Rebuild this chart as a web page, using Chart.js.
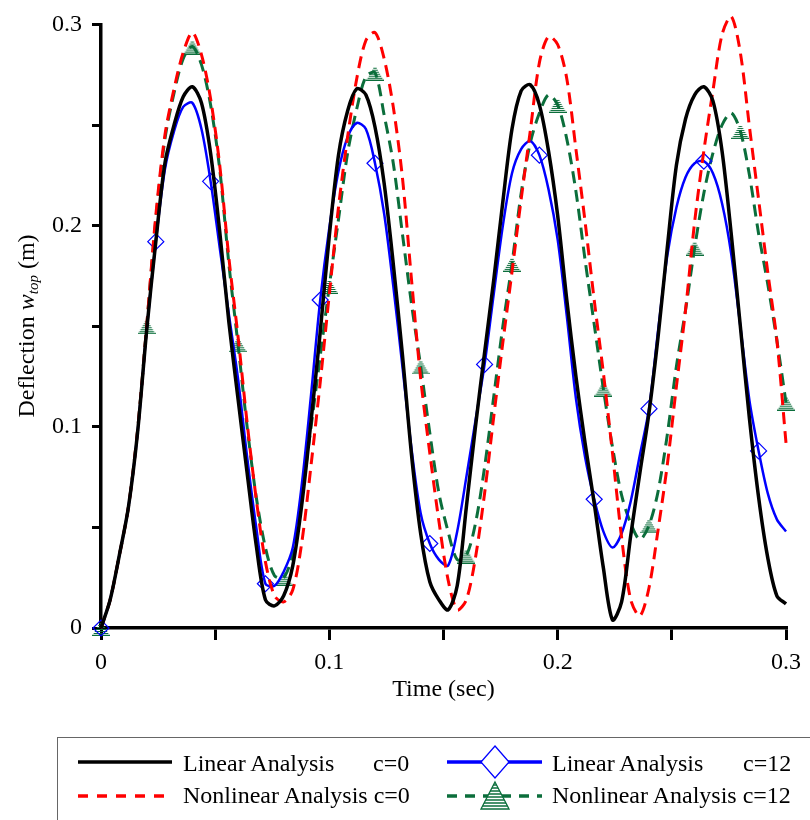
<!DOCTYPE html>
<html lang="en">
<head>
    <meta charset="UTF-8">
    <title>Deflection w_top vs time</title>
    <style>
        body {
            margin: 0;
            background: #fff;
            font-family: "Liberation Serif", "Times New Roman", serif;
            color: #000;
        }
        #page {
            position: relative;
            width: 810px;
            height: 820px;
            overflow: hidden;
        }
        #wrap {
            position: absolute;
            left: 0;
            top: 0;
            width: 810px;
            height: 710px;
        }
        #ytitle {
            position: absolute;
            left: 29px;
            top: 326px;
            transform: translate(-50%, -50%) rotate(-90deg);
            white-space: nowrap;
            font-size: 24px;
            line-height: 24px;
        }
        #ytitle sub {
            font-size: 15px;
            vertical-align: -4px;
        }
        #legend-box {
            position: absolute;
            left: 57px;
            top: 737px;
            width: 800px;
            height: 120px;
            border: 1.5px solid #666;
            box-sizing: border-box;
        }
        .lg {
            position: absolute;
            font-size: 24px;
            line-height: 24px;
            white-space: nowrap;
        }
        #legend-svg {
            position: absolute;
            left: 0;
            top: 0;
        }
    </style>
    <script src="https://cdn.jsdelivr.net/npm/chart.js"></script>
</head>
<body>
<div id="page">
    <div id="wrap"><canvas id="chart"></canvas></div>
    <div id="ytitle">Deflection <i>w</i><sub><i>top</i></sub> (m)</div>

    <div id="legend-box"></div>
    <svg id="legend-svg" width="810" height="820">
        <defs>
            <clipPath id="triClip">
                <polygon points="495,782 509,809 481,809"/>
            </clipPath>
        </defs>
        <line x1="78" y1="762" x2="172" y2="762" stroke="#000" stroke-width="3.5"/>
        <line x1="78" y1="796" x2="172" y2="796" stroke="#ff0000" stroke-width="3.5" stroke-dasharray="10 9"/>
        <line x1="447" y1="762" x2="542" y2="762" stroke="#0000ff" stroke-width="3.5"/>
        <polygon points="495,746 509,762 495,778 481,762" fill="#fff" stroke="#0000ff" stroke-width="1.3"/>
        <line x1="447" y1="796" x2="542" y2="796" stroke="#0b6e3b" stroke-width="3.5" stroke-dasharray="10 8"/>
        <polygon points="495,782 509,809 481,809" fill="#fff" stroke="#0b6e3b" stroke-width="1.3"/>
        <g clip-path="url(#triClip)" stroke="#0b6e3b" stroke-width="1.3">
            <line x1="478" y1="785" x2="512" y2="785"/>
            <line x1="478" y1="788" x2="512" y2="788"/>
            <line x1="478" y1="791" x2="512" y2="791"/>
            <line x1="478" y1="794" x2="512" y2="794"/>
            <line x1="478" y1="797" x2="512" y2="797"/>
            <line x1="478" y1="800" x2="512" y2="800"/>
            <line x1="478" y1="803" x2="512" y2="803"/>
            <line x1="478" y1="806" x2="512" y2="806"/>
        </g>
    </svg>
    <span class="lg" style="left:183px; top:751px;">Linear Analysis</span>
    <span class="lg" style="left:373px; top:751px;">c=0</span>
    <span class="lg" style="left:183px; top:783px;">Nonlinear Analysis c=0</span>
    <span class="lg" style="left:552px; top:751px;">Linear Analysis</span>
    <span class="lg" style="left:743px; top:751px;">c=12</span>
    <span class="lg" style="left:552px; top:783px;">Nonlinear Analysis c=12</span>
</div>

<script>
    // time (sec)
    const times = [
        0, 0.004, 0.008, 0.012, 0.016, 0.02, 0.024, 0.028, 0.032, 0.036,
        0.04, 0.044, 0.048, 0.052, 0.056, 0.06, 0.064, 0.068, 0.072, 0.076,
        0.08, 0.084, 0.088, 0.092, 0.096, 0.1, 0.104, 0.108, 0.112, 0.116,
        0.12, 0.124, 0.128, 0.132, 0.136, 0.14, 0.144, 0.148, 0.152, 0.156,
        0.16, 0.164, 0.168, 0.172, 0.176, 0.18, 0.184, 0.188, 0.192, 0.196,
        0.2, 0.204, 0.208, 0.212, 0.216, 0.22, 0.224, 0.228, 0.232, 0.236,
        0.24, 0.244, 0.248, 0.252, 0.256, 0.26, 0.264, 0.268, 0.272, 0.276,
        0.28, 0.284, 0.288, 0.292, 0.296, 0.3
    ];

    // deflection w_top (m)
    const linearC0 = [
        0, 0.014, 0.036, 0.060, 0.097, 0.148, 0.192, 0.231, 0.250, 0.264,
        0.269, 0.261, 0.236, 0.197, 0.152, 0.114, 0.077, 0.041, 0.014, 0.011,
        0.016, 0.031, 0.062, 0.103, 0.147, 0.195, 0.235, 0.257, 0.268, 0.265,
        0.249, 0.221, 0.181, 0.136, 0.086, 0.047, 0.023, 0.014, 0.009, 0.021,
        0.060, 0.100, 0.137, 0.173, 0.212, 0.248, 0.267, 0.270, 0.260, 0.237,
        0.205, 0.163, 0.125, 0.092, 0.062, 0.030, 0.004, 0.013, 0.046, 0.077,
        0.107, 0.145, 0.189, 0.230, 0.253, 0.265, 0.269, 0.262, 0.237, 0.196,
        0.150, 0.104, 0.065, 0.035, 0.016, 0.012
    ];
    const nonlinearC0 = [
        0, 0.014, 0.036, 0.060, 0.098, 0.150, 0.205, 0.245, 0.268, 0.286,
        0.296, 0.285, 0.263, 0.230, 0.184, 0.145, 0.102, 0.064, 0.033, 0.016,
        0.013, 0.019, 0.043, 0.081, 0.122, 0.166, 0.209, 0.244, 0.273, 0.292,
        0.296, 0.283, 0.259, 0.224, 0.173, 0.124, 0.087, 0.053, 0.024, 0.009,
        0.014, 0.035, 0.067, 0.105, 0.142, 0.177, 0.213, 0.247, 0.281, 0.294,
        0.290, 0.273, 0.238, 0.202, 0.163, 0.127, 0.087, 0.045, 0.014, 0.006,
        0.020, 0.049, 0.081, 0.120, 0.158, 0.202, 0.237, 0.267, 0.295, 0.304,
        0.286, 0.249, 0.213, 0.177, 0.143, 0.092
    ];
    const linearC12 = [
        0, 0.014, 0.036, 0.060, 0.097, 0.148, 0.192, 0.228, 0.247, 0.259,
        0.261, 0.248, 0.222, 0.189, 0.156, 0.124, 0.085, 0.050, 0.022, 0.021,
        0.028, 0.040, 0.072, 0.116, 0.163, 0.199, 0.227, 0.244, 0.251, 0.248,
        0.231, 0.206, 0.170, 0.130, 0.089, 0.057, 0.042, 0.034, 0.031, 0.048,
        0.075, 0.103, 0.131, 0.166, 0.200, 0.226, 0.238, 0.242, 0.235, 0.218,
        0.193, 0.155, 0.114, 0.085, 0.064, 0.048, 0.040, 0.047, 0.063, 0.086,
        0.109, 0.148, 0.185, 0.209, 0.224, 0.231, 0.232, 0.226, 0.211, 0.186,
        0.150, 0.113, 0.088, 0.067, 0.054, 0.048
    ];
    const nonlinearC12 = [
        0, 0.014, 0.036, 0.060, 0.098, 0.150, 0.203, 0.243, 0.266, 0.283,
        0.289, 0.280, 0.260, 0.228, 0.181, 0.141, 0.100, 0.065, 0.040, 0.026,
        0.025, 0.037, 0.066, 0.100, 0.135, 0.170, 0.203, 0.236, 0.258, 0.274,
        0.276, 0.255, 0.231, 0.196, 0.161, 0.130, 0.097, 0.067, 0.048, 0.034,
        0.036, 0.052, 0.080, 0.115, 0.150, 0.181, 0.216, 0.241, 0.256, 0.265,
        0.260, 0.243, 0.217, 0.183, 0.151, 0.119, 0.090, 0.066, 0.052, 0.044,
        0.051, 0.068, 0.096, 0.130, 0.158, 0.189, 0.216, 0.236, 0.250, 0.256,
        0.247, 0.225, 0.196, 0.171, 0.143, 0.112
    ];

    const green = '#0b6e3b';

    // striped triangle marker like the original plot
    function makeTriangle() {
        const c = document.createElement('canvas');
        c.width = 18;
        c.height = 16;
        const g = c.getContext('2d');
        g.beginPath();
        g.moveTo(9, 0.5);
        g.lineTo(17.5, 15.5);
        g.lineTo(0.5, 15.5);
        g.closePath();
        g.save();
        g.clip();
        g.strokeStyle = green;
        g.lineWidth = 1;
        for (let y = 3.5; y < 16; y += 2) {
            g.beginPath();
            g.moveTo(0, y);
            g.lineTo(18, y);
            g.stroke();
        }
        g.restore();
        g.strokeStyle = green;
        g.lineWidth = 1.5;
        g.stroke();
        return c;
    }

    function toPoints(values) {
        return values.map((v, i) => ({ x: times[i], y: v }));
    }

    Chart.defaults.font.family = '"Liberation Serif", "Times New Roman", serif';
    Chart.defaults.font.size = 24;
    Chart.defaults.color = '#000';

    const triangle = makeTriangle();

    const ctx = document.getElementById('chart').getContext('2d');
    new Chart(ctx, {
        type: 'line',
        data: {
            datasets: [
                {
                    label: 'Linear Analysis c=0',
                    data: toPoints(linearC0),
                    borderColor: '#000',
                    borderWidth: 3.5,
                    pointRadius: 0
                },
                {
                    label: 'Nonlinear Analysis c=0',
                    data: toPoints(nonlinearC0),
                    borderColor: '#ff0000',
                    borderWidth: 3,
                    borderDash: [12, 7],
                    pointRadius: 0
                },
                {
                    label: 'Linear Analysis c=12',
                    data: toPoints(linearC12),
                    borderColor: '#0000ff',
                    borderWidth: 2.5,
                    pointStyle: 'rectRot',
                    pointRadius: c => c.dataIndex % 6 === 0 ? 8 : 0,
                    pointBorderWidth: 1.2,
                    pointBorderColor: '#0000ff',
                    pointBackgroundColor: 'rgba(255,255,255,0)'
                },
                {
                    label: 'Nonlinear Analysis c=12',
                    data: toPoints(nonlinearC12),
                    borderColor: green,
                    borderWidth: 3,
                    borderDash: [12, 7],
                    pointStyle: triangle,
                    pointRadius: c => c.dataIndex % 5 === 0 ? 8 : 0
                }
            ]
        },
        options: {
            responsive: true,
            maintainAspectRatio: false,
            animation: false,
            events: [],
            layout: { padding: { top: 20, right: 24, left: 0, bottom: 0 } },
            datasets: { line: { tension: 0.3, clip: false, fill: false } },
            plugins: {
                legend: { display: false },
                tooltip: { enabled: false }
            },
            scales: {
                x: {
                    type: 'linear',
                    min: 0,
                    max: 0.3,
                    afterFit: s => { s.height = 82; },
                    border: { color: '#000', width: 3.5 },
                    grid: { drawOnChartArea: false, color: '#000', lineWidth: 3, tickLength: 12 },
                    ticks: {
                        stepSize: 0.05,
                        autoSkip: false,
                        maxRotation: 0,
                        padding: 8,
                        callback: v => {
                            const k = Math.round(v * 100);
                            return k % 10 === 0 ? String(k / 100) : '';
                        }
                    },
                    title: { display: true, text: 'Time (sec)', padding: { top: 0, bottom: 6 } }
                },
                y: {
                    min: 0,
                    max: 0.3,
                    afterFit: s => { s.width = 101; },
                    border: { color: '#000', width: 3.5 },
                    grid: { drawOnChartArea: false, color: '#000', lineWidth: 3, tickLength: 9 },
                    ticks: {
                        stepSize: 0.05,
                        padding: 10,
                        callback: v => {
                            const k = Math.round(v * 100);
                            return k % 10 === 0 ? String(k / 100) : '';
                        }
                    }
                }
            }
        }
    });
</script>
</body>
</html>
